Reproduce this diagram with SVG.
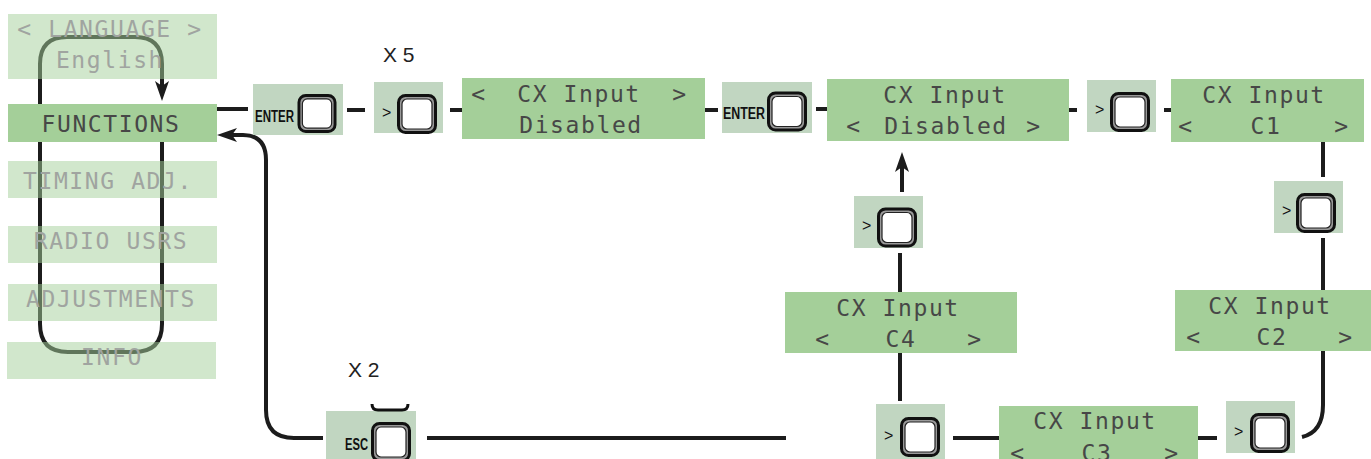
<svg xmlns="http://www.w3.org/2000/svg" xmlns:xlink="http://www.w3.org/1999/xlink" width="1371" height="459" viewBox="0 0 1371 459">
<style>
.lcd{fill:#a4cf99}
.dim{fill:#a4cf99;opacity:0.5}
.kbg{fill:#c1d6c1}
.t{font-family:"DejaVu Sans Mono",monospace;font-size:23px;fill:#474747;letter-spacing:1.6px;text-anchor:middle}
.tg{font-family:"DejaVu Sans Mono",monospace;font-size:23px;fill:#a0a4a0;letter-spacing:1.6px;text-anchor:middle}
.k{font-family:"Liberation Sans",Arial,sans-serif;font-weight:bold;font-size:16px;fill:#111}
.g{font-family:"Liberation Sans",Arial,sans-serif;font-size:16px;fill:#111}
.x{font-family:"Liberation Sans",Arial,sans-serif;font-size:21px;fill:#222}
.c{fill:none;stroke:#1c1c1c;stroke-width:4}
</style>
<defs>
<marker id="ah" viewBox="0 0 20 14" refX="5" refY="7" markerWidth="20" markerHeight="14" markerUnits="userSpaceOnUse" orient="auto">
<path d="M0,0 L20,7 L0,14 L5,7 Z" fill="#1c1c1c"/>
</marker>
<symbol id="btn" viewBox="0 0 40 40">
<rect x="1.5" y="1.5" width="37" height="37" rx="7" fill="#9a9a9a" stroke="#111" stroke-width="3"/>
<rect x="5" y="5" width="30" height="30" rx="5" fill="#fff" stroke="#222" stroke-width="1.2"/>
</symbol>
</defs>
<g id="connectors">
<path class="c" d="M162,142 V324 Q162,352 134,352 H68 Q40,352 40,324 V64 Q40,37 67,37 H135 Q162,37 162,64 V86" marker-end="url(#ah)"/>
<path class="c" d="M217,109 H248"/>
<path class="c" d="M347,110 H365"/>
<path class="c" d="M450,110 H462"/>
<path class="c" d="M705,110 H718"/>
<path class="c" d="M816,109 H827"/>
<path class="c" d="M1069,110 H1077"/>
<path class="c" d="M1164,110 H1171"/>
<path class="c" d="M1323,142 V177"/>
<path class="c" d="M1323,238 V290"/>
<path class="c" d="M1323,351 V405 Q1323,432 1302,437"/>
<path class="c" d="M1217,438 H1198"/>
<path class="c" d="M999,438 H953"/>
<path class="c" d="M900,401 V353"/>
<path class="c" d="M900,292 V253"/>
<path class="c" d="M902,192 V167" marker-end="url(#ah)"/>
<path class="c" d="M786,438 H427"/>
<path class="c" d="M323,438 H294 Q266,438 266,410 V160 Q266,135 243,135 H232" marker-end="url(#ah)"/>
</g>
<g id="language">
<rect class="dim" x="8" y="14" width="209" height="65"/>
<text class="tg" x="110" y="37">&lt; LANGUAGE &gt;</text>
<text class="tg" x="110" y="68">English</text>
</g>
<g id="functions">
<rect class="lcd" x="8" y="104" width="209" height="38"/>
<text class="t" x="111" y="132">FUNCTIONS</text>
</g>
<g id="timing">
<rect class="dim" x="8" y="161" width="209" height="37"/>
<text class="tg" x="108" y="189">TIMING ADJ.</text>
</g>
<g id="radio">
<rect class="dim" x="8" y="226" width="209" height="37"/>
<text class="tg" x="111" y="249">RADIO USRS</text>
</g>
<g id="adjustments">
<rect class="dim" x="8" y="284" width="209" height="37"/>
<text class="tg" x="111" y="307">ADJUSTMENTS</text>
</g>
<g id="info">
<rect class="dim" x="7" y="342" width="209" height="37"/>
<text class="tg" x="112" y="365">INFO</text>
</g>
<g id="enter1">
<rect class="kbg" x="253" y="84" width="90" height="51"/>
<text class="k" x="255" y="122" textLength="39" lengthAdjust="spacingAndGlyphs">ENTER</text>
<use xlink:href="#btn" x="297" y="94" width="40" height="39"/>
</g>
<g id="next1">
<text class="x" x="383" y="62">X 5</text>
<rect class="kbg" x="374" y="82" width="69" height="51"/>
<text class="g" x="382" y="118">&gt;</text>
<use xlink:href="#btn" x="397" y="94" width="40" height="40"/>
</g>
<g id="cx-disabled-1">
<rect class="lcd" x="462" y="78" width="243" height="61"/>
<text class="t" x="479" y="102">&lt;</text>
<text class="t" x="579" y="102">CX Input</text>
<text class="t" x="680" y="102">&gt;</text>
<text class="t" x="581" y="133">Disabled</text>
</g>
<g id="enter2">
<rect class="kbg" x="722" y="82" width="90" height="51"/>
<text class="k" x="723" y="119" textLength="42" lengthAdjust="spacingAndGlyphs">ENTER</text>
<use xlink:href="#btn" x="767" y="91" width="40" height="41"/>
</g>
<g id="cx-disabled-2">
<rect class="lcd" x="827" y="79" width="242" height="62"/>
<text class="t" x="945" y="103">CX Input</text>
<text class="t" x="854" y="134">&lt;</text>
<text class="t" x="946" y="134">Disabled</text>
<text class="t" x="1034" y="134">&gt;</text>
</g>
<g id="next2">
<rect class="kbg" x="1087" y="80" width="69" height="52"/>
<text class="g" x="1095" y="115">&gt;</text>
<use xlink:href="#btn" x="1110" y="92" width="40" height="40"/>
</g>
<g id="cx-c1">
<rect class="lcd" x="1171" y="79" width="193" height="63"/>
<text class="t" x="1264" y="103">CX Input</text>
<text class="t" x="1186" y="134">&lt;</text>
<text class="t" x="1266" y="134">C1</text>
<text class="t" x="1342" y="134">&gt;</text>
</g>
<g id="next3">
<rect class="kbg" x="1274" y="181" width="69" height="52"/>
<text class="g" x="1282" y="216">&gt;</text>
<use xlink:href="#btn" x="1296" y="193" width="40" height="40"/>
</g>
<g id="cx-c2">
<rect class="lcd" x="1175" y="290" width="196" height="61"/>
<text class="t" x="1270" y="314">CX Input</text>
<text class="t" x="1194" y="345">&lt;</text>
<text class="t" x="1272" y="345">C2</text>
<text class="t" x="1346" y="345">&gt;</text>
</g>
<g id="next4">
<rect class="kbg" x="1226" y="401" width="69" height="52"/>
<text class="g" x="1234" y="437">&gt;</text>
<use xlink:href="#btn" x="1250" y="413" width="40" height="40"/>
</g>
<g id="cx-c3">
<rect class="lcd" x="999" y="406" width="199" height="60"/>
<text class="t" x="1095" y="429">CX Input</text>
<text class="t" x="1018" y="461">&lt;</text>
<text class="t" x="1097" y="461">C3</text>
<text class="t" x="1172" y="461">&gt;</text>
</g>
<g id="next5">
<rect class="kbg" x="876" y="404" width="69" height="58"/>
<text class="g" x="884" y="441">&gt;</text>
<use xlink:href="#btn" x="900" y="417" width="40" height="40"/>
</g>
<g id="cx-c4">
<rect class="lcd" x="785" y="292" width="232" height="61"/>
<text class="t" x="898" y="316">CX Input</text>
<text class="t" x="823" y="347">&lt;</text>
<text class="t" x="901" y="347">C4</text>
<text class="t" x="975" y="347">&gt;</text>
</g>
<g id="next6">
<rect class="kbg" x="854" y="196" width="69" height="52"/>
<text class="g" x="862" y="231">&gt;</text>
<use xlink:href="#btn" x="877" y="207" width="40" height="41"/>
</g>
<g id="esc">
<text class="x" x="348" y="377">X 2</text>
<rect class="kbg" x="326" y="411" width="90" height="50"/>
<path d="M372,404 Q372,410 378,410 H402 Q408,410 408,404" fill="none" stroke="#111" stroke-width="3"/>
<text class="k" x="345" y="450" textLength="23" lengthAdjust="spacingAndGlyphs">ESC</text>
<use xlink:href="#btn" x="371" y="422" width="40" height="40"/>
</g>
</svg>
